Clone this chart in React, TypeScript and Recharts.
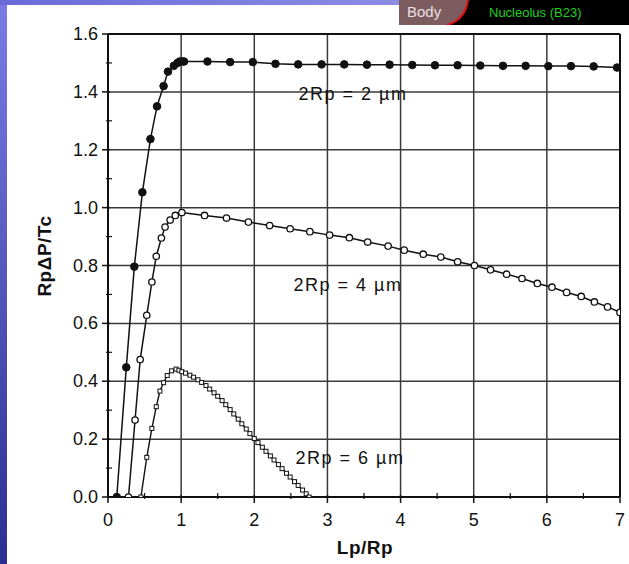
import { LineChart, Line, XAxis, YAxis, CartesianGrid, ReferenceLine } from "recharts";

// tick values (minor + major)
const xTicks = [0, 0.5, 1, 1.5, 2, 2.5, 3, 3.5, 4, 4.5, 5, 5.5, 6, 6.5, 7];
const yTicks = [0, 0.1, 0.2, 0.3, 0.4, 0.5, 0.6, 0.7, 0.8, 0.9, 1.0, 1.1, 1.2, 1.3, 1.4, 1.5, 1.6];
const xGrid = [0, 1, 2, 3, 4, 5, 6, 7];
const yGrid = [0, 0.2, 0.4, 0.6, 0.8, 1.0, 1.2, 1.4, 1.6];

// 2Rp = 2 um (filled circles)
const lp2 = [0.12, 0.25, 0.36, 0.47, 0.58, 0.67, 0.76, 0.82, 0.9, 0.95, 0.98, 1.02, 1.04, 1.36, 1.67, 1.98, 2.29, 2.6, 2.92, 3.23, 3.54, 3.85, 4.16, 4.47, 4.78, 5.09, 5.4, 5.71, 6.02, 6.33, 6.64, 6.96];
const val2 = [0, 0.448, 0.796, 1.053, 1.237, 1.35, 1.42, 1.47, 1.49, 1.5, 1.505, 1.505, 1.505, 1.505, 1.503, 1.503, 1.497, 1.495, 1.495, 1.495, 1.494, 1.494, 1.493, 1.492, 1.492, 1.491, 1.49, 1.49, 1.489, 1.489, 1.488, 1.484];

// 2Rp = 4 um (open circles)
const lp4 = [0.28, 0.37, 0.44, 0.53, 0.6, 0.66, 0.73, 0.78, 0.85, 0.92, 1.01, 1.32, 1.62, 1.92, 2.21, 2.49, 2.76, 3.03, 3.3, 3.55, 3.83, 4.05, 4.31, 4.55, 4.78, 5.01, 5.23, 5.45, 5.66, 5.87, 6.07, 6.27, 6.47, 6.65, 6.83, 7.0];
const val4 = [0, 0.266, 0.475, 0.628, 0.743, 0.832, 0.895, 0.933, 0.957, 0.973, 0.983, 0.973, 0.964, 0.95, 0.938, 0.927, 0.917, 0.905, 0.896, 0.881, 0.867, 0.853, 0.839, 0.829, 0.813, 0.8, 0.785, 0.77, 0.755, 0.738, 0.725, 0.707, 0.693, 0.674, 0.657, 0.638];

// 2Rp = 6 um (small squares)
const lp6 = [0.45, 0.53, 0.6, 0.66, 0.71, 0.76, 0.81, 0.87, 0.93, 0.97, 1.01, 1.06, 1.12, 1.17, 1.23, 1.28, 1.34, 1.39, 1.45, 1.5, 1.56, 1.61, 1.67, 1.72, 1.78, 1.83, 1.89, 1.94, 2.0, 2.05, 2.11, 2.16, 2.22, 2.27, 2.33, 2.38, 2.44, 2.49, 2.55, 2.6, 2.66, 2.71, 2.75];
const val6 = [0, 0.137, 0.237, 0.312, 0.366, 0.395, 0.42, 0.436, 0.442, 0.438, 0.433, 0.428, 0.421, 0.414, 0.405, 0.396, 0.385, 0.373, 0.36, 0.348, 0.333, 0.319, 0.302, 0.287, 0.269, 0.253, 0.235, 0.219, 0.202, 0.188, 0.172, 0.158, 0.142, 0.128, 0.112, 0.098, 0.082, 0.069, 0.053, 0.04, 0.024, 0.011, 0];

const toPoints = (xs: number[], ys: number[]) => xs.map((x, i) => ({ x, y: ys[i] }));
const data2 = toPoints(lp2, val2);
const data4 = toPoints(lp4, val4);
const data6 = toPoints(lp6, val6);

const FONT = "'Liberation Sans', Arial, sans-serif";
const INK = "#111";

function XTick({ x, y, payload }: any) {
  const v = payload.value;
  const major = Number.isInteger(v);
  return (
    <g>
      {major ? (
        <line x1={x} x2={x} y1={y - 2} y2={y + 6} stroke={INK} strokeWidth={1.5} />
      ) : (
        <line x1={x} x2={x} y1={y - 4} y2={y + 2} stroke={INK} strokeWidth={1.2} />
      )}
      {major && (
        <text x={x} y={y + 29} textAnchor="middle" fontSize={18} fontFamily={FONT} fill={INK}>
          {v}
        </text>
      )}
    </g>
  );
}

function YTick({ x, y, payload }: any) {
  const v = payload.value;
  const major = Math.round(v * 10) % 2 === 0;
  return (
    <g>
      {major ? (
        <line x1={x - 6} x2={x + 2} y1={y} y2={y} stroke={INK} strokeWidth={1.5} />
      ) : (
        <line x1={x - 2} x2={x + 4} y1={y} y2={y} stroke={INK} strokeWidth={1.2} />
      )}
      {major && (
        <text x={x - 10} y={y + 6} textAnchor="end" fontSize={18} fontFamily={FONT} fill={INK}>
          {v.toFixed(1)}
        </text>
      )}
    </g>
  );
}

function SquareDot({ cx, cy, index }: any) {
  return (
    <rect key={`sq-${index}`} x={cx - 2} y={cy - 2} width={4} height={4} fill="#fff" stroke={INK} strokeWidth={1} />
  );
}

const noteStyle: React.CSSProperties = {
  position: "absolute",
  fontFamily: FONT,
  fontSize: 18,
  letterSpacing: 1.5,
  color: INK,
  whiteSpace: "nowrap",
  transform: "translate(-50%, -50%)",
};

export default function App() {
  return (
    <div style={{ position: "fixed", left: 0, top: 0, width: 629, height: 564, background: "#fff", overflow: "hidden" }}>
      <LineChart width={629} height={564} margin={{ top: 34, right: 9, bottom: 7, left: 48 }}>
        <CartesianGrid
          horizontalValues={yGrid}
          verticalValues={xGrid}
          stroke="#3a3a3a"
          strokeWidth={1.5}
        />
        <XAxis
          dataKey="x"
          type="number"
          domain={[0, 7]}
          ticks={xTicks}
          interval={0}
          tickSize={0}
          tickMargin={0}
          tickLine={false}
          tick={<XTick />}
          axisLine={{ stroke: INK, strokeWidth: 2 }}
          height={60}
          allowDataOverflow
        />
        <YAxis
          type="number"
          domain={[0, 1.6]}
          ticks={yTicks}
          interval={0}
          tickSize={0}
          tickMargin={0}
          tickLine={false}
          tick={<YTick />}
          axisLine={{ stroke: INK, strokeWidth: 2 }}
          width={60}
          allowDataOverflow
        />
        <ReferenceLine y={1.6} stroke={INK} strokeWidth={2} />
        <ReferenceLine x={7} stroke={INK} strokeWidth={2} />
        <Line
          data={data2}
          dataKey="y"
          type="linear"
          stroke={INK}
          strokeWidth={1.5}
          dot={{ r: 3.8, fill: INK, stroke: INK, strokeWidth: 1 }}
          isAnimationActive={false}
        />
        <Line
          data={data4}
          dataKey="y"
          type="linear"
          stroke={INK}
          strokeWidth={1.5}
          dot={{ r: 3.2, fill: "#fff", stroke: INK, strokeWidth: 1.3 }}
          isAnimationActive={false}
        />
        <Line
          data={data6}
          dataKey="y"
          type="linear"
          stroke={INK}
          strokeWidth={1.4}
          dot={<SquareDot />}
          isAnimationActive={false}
        />
      </LineChart>

      {/* curve labels */}
      <div style={{ ...noteStyle, left: 353, top: 94 }}>2Rp = 2 µm</div>
      <div style={{ ...noteStyle, left: 348, top: 285 }}>2Rp = 4 µm</div>
      <div style={{ ...noteStyle, left: 350, top: 458 }}>2Rp = 6 µm</div>

      {/* axis titles */}
      <div style={{ position: "absolute", left: 365, top: 548, transform: "translate(-50%, -50%)", fontFamily: FONT, fontWeight: 700, fontSize: 19, color: INK, letterSpacing: 0.5 }}>
        Lp/Rp
      </div>
      <div style={{ position: "absolute", left: 45, top: 256, transform: "translate(-50%, -50%) rotate(-90deg)", fontFamily: FONT, fontWeight: 700, fontSize: 19, color: INK, letterSpacing: 0.5, whiteSpace: "nowrap" }}>
        RpΔP/Tc
      </div>

      {/* slide frame */}
      <div style={{ position: "absolute", left: 0, top: 0, width: 7, height: 564, background: "linear-gradient(#7c7ce6, #2e2e90)" }} />
      <div style={{ position: "absolute", left: 0, top: 0, width: 399, height: 5, background: "linear-gradient(to right, #6a6ad8, #8c8ce4)" }} />
      <svg style={{ position: "absolute", left: 399, top: 0 }} width={230} height={25}>
        <rect width={230} height={25} fill="#000" />
        <path d="M0 0 H69 Q66 20 48 25 H0 Z" fill="#7d5c60" />
        <path d="M69 0 Q66 20 48 25" stroke="#e01010" strokeWidth={2} fill="none" />
        <text x={8} y={17} fontFamily={FONT} fontSize={15} fill="#e8e0e0">Body</text>
        <text x={90} y={17} fontFamily={FONT} fontSize={13} fill="#1ed21e">Nucleolus (B23)</text>
      </svg>
    </div>
  );
}
